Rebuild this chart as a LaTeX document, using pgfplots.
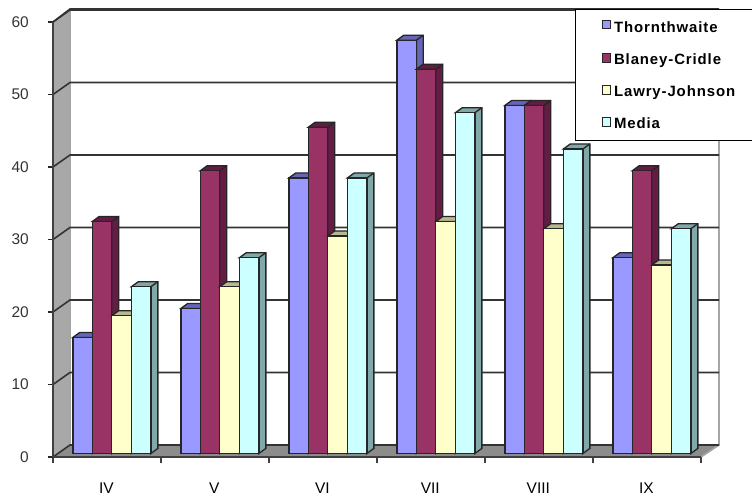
\documentclass[border=0pt]{standalone}
\usepackage{pgfplots}
\pgfplotsset{compat=1.18}
\usepackage{fontspec}
\setmainfont{Liberation Sans}
\newfontfamily\legendfont[LetterSpace=6]{Liberation Sans}
% 1 drawing unit = 0.75pt; bar front 14.625pt wide
\pgfdeclareplotmark{bardepth}{%
  \pgfmathsetlengthmacro{\barh}{\val*5.4375pt}%
  % side and top faces, extruded from the bar's upper right front corner
  \pgfpathmoveto{\pgfqpoint{-14.625pt}{0pt}}%
  \pgfpathlineto{\pgfqpoint{-9.4pt}{3.8pt}}%
  \pgfpathlineto{\pgfqpoint{5.225pt}{3.8pt}}%
  \pgfpathlineto{\pgfpoint{5.225pt}{3.8pt-\barh}}%
  \pgfpathlineto{\pgfpoint{0pt}{-\barh}}%
  \pgfpathlineto{\pgfqpoint{0pt}{0pt}}%
  \pgfpathclose
  \pgfusepathqfillstroke
  \pgfpathmoveto{\pgfqpoint{0pt}{0pt}}%
  \pgfpathlineto{\pgfqpoint{5.225pt}{3.8pt}}%
  \pgfusepathqstroke
  % front face painted with the bar, so later series cover earlier side faces
  \begin{pgfscope}%
  \pgfsetfillcolor{\frontcolor}%
  \pgfpathrectangle{\pgfpoint{-14.625pt}{-\barh}}{\pgfpoint{14.625pt}{\barh}}%
  \pgfusepathqfillstroke
  \end{pgfscope}%
}
\pgfplotstableread{
x    th  bc  lj  me
0.5  16  32  19  23
1.5  20  39  23  27
2.5  38  45  30  38
3.5  57  53  32  47
4.5  48  48  31  42
5.5  27  39  26  31
}\monthly
\definecolor{thc}{HTML}{9999FF}\definecolor{ths}{HTML}{6666B8}
\definecolor{bcc}{HTML}{993366}\definecolor{bcs}{HTML}{661A44}
\definecolor{ljc}{HTML}{FFFFCC}\definecolor{ljs}{HTML}{B8B890}
\definecolor{mec}{HTML}{CCFFFF}\definecolor{mes}{HTML}{80A8A8}
\definecolor{wallc}{HTML}{A8A8A8}\definecolor{floorc}{HTML}{8C8C8C}
\definecolor{gridc}{HTML}{333333}
\pgfplotsset{
  squarelegend/.style={legend image code/.code={
    \draw[##1,line width=.7pt,draw=black!85] (0pt,-3.9pt) rectangle (6.4pt,2.5pt);}},
  barfront/.style 2 args={ybar,bar width=14.625pt,bar shift=#1,yshift=2.625pt,
    draw=black!85,line width=1pt,fill=#2,squarelegend},
  barback/.style n args={3}{only marks,mark=bardepth,forget plot,
    xshift=#1,yshift=2.625pt,
    mark options={draw=black!85,fill=#2,line width=1pt,solid,
      /utils/exec={\def\frontcolor{#3}}},
    visualization depends on={y \as \val}},
}
\begin{document}
\begin{tikzpicture}[x=.75pt,y=-.75pt]
\path[use as bounding box] (0,0) rectangle (752,498);
% walls and floor of the chart box
\fill[wallc] (53,457) -- (70,445) -- (70,9) -- (53,22) -- cycle;
\fill[floorc] (53,457) -- (70,445) -- (719,445) -- (701,457) -- cycle;
\draw[gray!70,line width=.9pt] (70,445) -- (70,9);
\draw[gray!70,line width=1.2pt] (719,9) -- (719,445) -- (701,457);
\foreach \g in {0,72.5,...,436}{
  \draw[gridc,line width=1.2pt] (53,457-\g) -- (70,445-\g) -- (719,445-\g);
}
\draw[gridc,line width=1.2pt] (53,22) -- (70,9) -- (719,9);
\begin{axis}[
  at={(39.75pt,-342.75pt)},anchor=south west,
  scale only axis,width=486pt,height=326.25pt,clip=false,
  xmin=0,xmax=6,ymin=0,ymax=60,
  axis lines*=left,axis line style={-,draw=black!75,line width=1pt},
  xtick={0.5,1.5,2.5,3.5,4.5,5.5},
  xticklabels={IV,V,VI,VII,VIII,IX},
  minor xtick={0,1,2,3,4,5,6},
  ytick={0,10,20,30,40,50,60},
  tick align=outside,
  major tick length=3.6pt,
  xtick style={draw=none},
  minor x tick style={draw=black!75,line width=.8pt},
  minor tick length=4.5pt,
  ytick style={draw=black!85,line width=.8pt},
  tick label style={font=\fontsize{11.6pt}{13pt}\selectfont},
  xticklabel style={yshift=-12pt,xshift=-.5pt,text=black},
  yticklabel style={xshift=-11pt,text=black!80},
  /pgf/number format/assume math mode=true,
  legend style={at={(0.805,1.030)},anchor=north west,draw=black,line width=.9pt,
    fill=white,inner xsep=20pt,inner ysep=5pt,
    font=\legendfont\bfseries\fontsize{11.2pt}{13pt}\selectfont,
    /tikz/every even column/.append style={column sep=1.5pt},
    row sep=10.4pt},
  legend cell align=left,
]
\addplot[barback={-10.99pt}{ths}{thc}] table[x=x,y=th]{\monthly};
\addplot[barfront={-18.3pt}{thc}] table[x=x,y=th]{\monthly};
\addlegendentry{\rule{0pt}{10.4pt}Thornthwaite\hspace*{24pt}}
\addplot[barback={3.61pt}{bcs}{bcc}] table[x=x,y=bc]{\monthly};
\addplot[barfront={-3.7pt}{bcc}] table[x=x,y=bc]{\monthly};
\addlegendentry{Blaney-Cridle}
\addplot[barback={18.21pt}{ljs}{ljc}] table[x=x,y=lj]{\monthly};
\addplot[barfront={10.9pt}{ljc}] table[x=x,y=lj]{\monthly};
\addlegendentry{Lawry-Johnson}
\addplot[barback={32.91pt}{mes}{mec}] table[x=x,y=me]{\monthly};
\addplot[barfront={25.6pt}{mec}] table[x=x,y=me]{\monthly};
\addlegendentry{Media}
\end{axis}
\end{tikzpicture}
\end{document}
